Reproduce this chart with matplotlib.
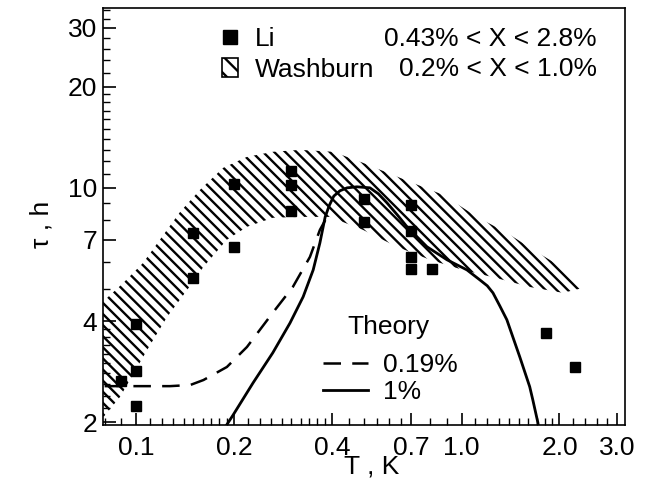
import matplotlib
matplotlib.use('Agg')
import matplotlib.pyplot as plt
from matplotlib.lines import Line2D
from matplotlib.patches import Patch
from matplotlib.ticker import NullFormatter
import numpy as np

plt.rcParams['font.family'] = ['Liberation Sans', 'DejaVu Sans']
plt.rcParams['hatch.linewidth'] = 1.7

FS = 19

# Li data (black squares)
li_T = [0.09, 0.1, 0.1, 0.1, 0.15, 0.15, 0.2, 0.2, 0.3, 0.3, 0.3,
        0.5, 0.5, 0.7, 0.7, 0.7, 0.7, 0.81, 1.82, 2.24]
li_tau = [2.66, 2.24, 2.84, 3.92, 5.38, 7.33, 6.64, 10.3, 8.5, 10.2, 11.2,
          9.24, 7.93, 8.9, 7.41, 6.21, 5.71, 5.71, 3.70, 2.92]

# Washburn band (hatched region)
wash_up_T = [0.079, 0.0912, 0.105, 0.1245, 0.1365, 0.157, 0.185, 0.219, 0.263,
             0.319, 0.403, 0.498, 0.694, 0.877, 1.115, 1.378, 1.70, 2.05, 2.31]
wash_up_tau = [4.57, 5.20, 5.97, 7.50, 8.48, 9.86, 11.47, 12.37, 12.81,
               12.98, 12.81, 11.87, 10.42, 9.53, 8.19, 7.34, 6.44, 5.77, 5.20]
wash_lo_T = [0.079, 0.0893, 0.108, 0.1245, 0.1435, 0.161, 0.190, 0.219, 0.263,
             0.319, 0.394, 0.498, 0.633, 0.80, 1.01, 1.28, 1.62, 2.05, 2.31]
wash_lo_tau = [2.06, 2.38, 3.28, 4.12, 4.96, 5.81, 7.00, 7.65, 8.14,
               8.19, 8.19, 7.49, 6.67, 6.10, 5.69, 5.38, 5.06, 4.86, 5.0]

# Theory, X = 0.19 %
th019_T = [0.080, 0.1, 0.127, 0.1466, 0.161, 0.190, 0.219, 0.263, 0.303,
           0.342, 0.367, 0.389]
th019_tau = [2.56, 2.56, 2.56, 2.58, 2.67, 2.92, 3.35, 4.24, 5.06,
             6.22, 7.49, 8.30]

# Theory, X = 1 %
th1_T = [0.1877, 0.1986, 0.2288, 0.263, 0.297, 0.326, 0.350, 0.367, 0.381,
         0.392, 0.405, 0.423, 0.445, 0.477, 0.523, 0.555, 0.590, 0.635, 0.680,
         0.783, 0.902, 1.039, 1.139, 1.20, 1.249, 1.31, 1.378, 1.51, 1.62,
         1.656, 1.717, 1.73]
th1_tau = [1.93, 2.10, 2.62, 3.22, 3.95, 4.73, 5.69, 6.85, 8.19,
           8.85, 9.45, 9.80, 10.0, 10.07, 10.0, 9.60, 9.02, 8.30, 7.65,
           6.67, 6.10, 5.69, 5.31, 5.10, 4.86, 4.45, 4.04, 3.13, 2.55,
           2.33, 1.99, 1.87]

x_major = [0.1, 0.2, 0.4, 0.7, 1.0, 2.0, 3.0]
x_labels = ['0.1', '0.2', '0.4', '0.7', '1.0', '2.0', '3.0']
y_major = [2, 4, 7, 10, 20, 30]
y_labels = ['2', '4', '7', '10', '20', '30']

x_minor = np.concatenate([[0.08, 0.09],
                          np.arange(0.11, 0.195, 0.01),
                          np.arange(0.22, 0.39, 0.02),
                          np.arange(0.45, 0.66, 0.05),
                          [0.8, 0.9],
                          np.arange(1.1, 1.95, 0.1),
                          np.arange(2.2, 2.9, 0.2)])
y_minor = np.concatenate([np.arange(2.2, 3.9, 0.2),
                          [5, 6, 8, 9],
                          np.arange(11, 19.5, 1),
                          np.arange(22, 29, 2),
                          [32, 34]])

fig = plt.figure(figsize=(6.47, 4.86), dpi=100)
ax = fig.add_axes([0.159, 0.1255, 0.807, 0.858])
ax.set_xscale('log')
ax.set_yscale('log')

band_T = wash_up_T + wash_lo_T[::-1]
band_tau = wash_up_tau + wash_lo_tau[::-1]
ax.fill(band_T, band_tau, facecolor='none', edgecolor='black',
        hatch='\\\\\\', linewidth=0)

ax.plot(th019_T, th019_tau, color='k', lw=1.8, dashes=(7, 4.5))
ax.plot(th1_T, th1_tau, color='k', lw=2.0)
ax.plot(li_T, li_tau, ls='none', marker='s', color='k', ms=7)

ax.set_xlim(0.079, 3.18)
ax.set_ylim(1.96, 34.4)

ax.set_xticks(x_major)
ax.set_xticklabels(x_labels)
ax.set_xticks(x_minor, minor=True)
ax.set_yticks(y_major)
ax.set_yticklabels(y_labels)
ax.set_yticks(y_minor, minor=True)
ax.xaxis.set_minor_formatter(NullFormatter())
ax.yaxis.set_minor_formatter(NullFormatter())

ax.tick_params(which='both', direction='in', top=False, right=False,
               labelsize=FS)
ax.tick_params(which='major', length=9, width=1.2)
ax.tick_params(axis='x', which='major', pad=8)
ax.tick_params(axis='y', which='major', pad=4)
ax.tick_params(which='minor', length=5, width=1)
for s in ax.spines.values():
    s.set_linewidth(1.2)

ax.set_xlabel('T , K', fontsize=FS)
ax.set_ylabel('τ , h', fontsize=FS)
ax.xaxis.set_label_coords(0.515, -0.07)
ax.yaxis.set_label_coords(-0.095, 0.48)

h1 = [Line2D([], [], ls='none', marker='s', color='k', ms=9.5),
      Patch(facecolor='white', edgecolor='black', hatch='\\\\', lw=1.2)]
leg1 = ax.legend(h1, ['Li', 'Washburn'], loc='upper left',
                 bbox_to_anchor=(0.228, 0.955), frameon=False, fontsize=FS,
                 handlelength=0.6, handletextpad=0.65, borderpad=0,
                 borderaxespad=0, labelspacing=0.27)
ax.add_artist(leg1)

ax.text(0.946, 0.926, '0.43% < X < 2.8%', ha='right', va='center',
        transform=ax.transAxes, fontsize=FS)
ax.text(0.946, 0.853, '0.2% < X < 1.0%', ha='right', va='center',
        transform=ax.transAxes, fontsize=FS)

ax.text(0.546, 0.235, 'Theory', ha='center', va='center',
        transform=ax.transAxes, fontsize=FS)
h2 = [Line2D([], [], color='k', lw=1.8, dashes=(7, 4.5)),
      Line2D([], [], color='k', lw=2.0)]
ax.legend(h2, ['0.19%', '1%'], loc='upper left',
          bbox_to_anchor=(0.421, 0.173), frameon=False,
          fontsize=FS, handlelength=1.7, handletextpad=0.6, borderpad=0,
          borderaxespad=0, labelspacing=0.12)

fig.savefig('out.png', dpi=100)
